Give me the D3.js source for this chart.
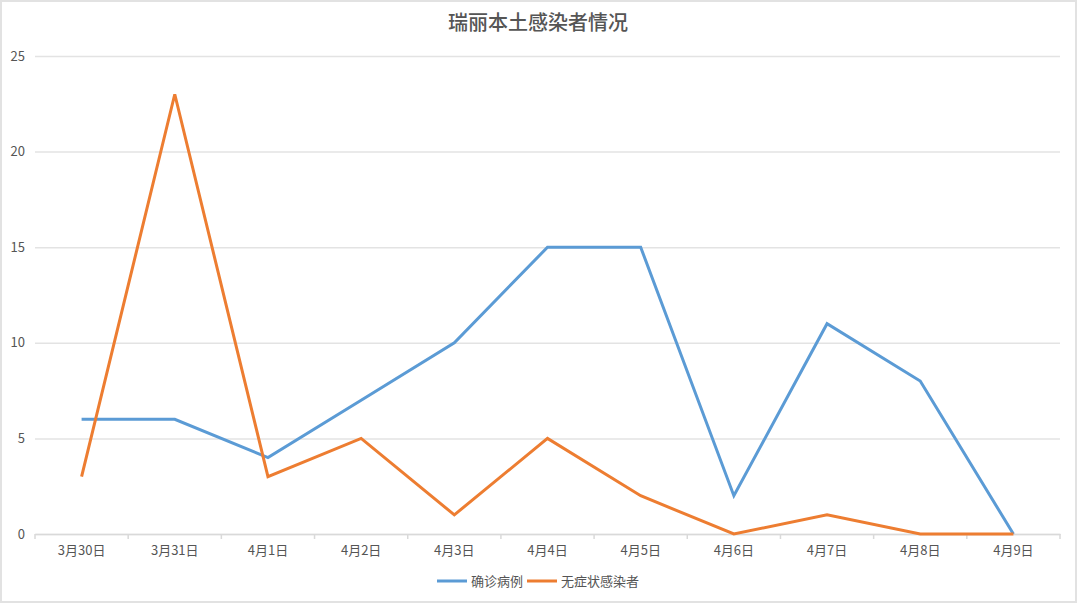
<!DOCTYPE html>
<html>
<head>
<meta charset="utf-8">
<script src="https://cdn.jsdelivr.net/npm/d3@7"></script>
<style>
  body { margin: 0; background: #fff; }
  text { font-family: "Noto Sans CJK SC", "Noto Sans", sans-serif; fill: #555; }
</style>
</head>
<body>
<div id="chart"></div>
<script>
const days = ["3月30日", "3月31日", "4月1日", "4月2日", "4月3日", "4月4日", "4月5日", "4月6日", "4月7日", "4月8日", "4月9日"];
const confirmed = [6, 6, 4, 7, 10, 15, 15, 2, 11, 8, 0];     // 确诊病例
const asymptomatic = [3, 23, 3, 5, 1, 5, 2, 0, 1, 0, 0];    // 无症状感染者
const yTicks = [0, 5, 10, 15, 20, 25];
const seriesNames = ["确诊病例", "无症状感染者"];
const colors = ["#5b9bd5", "#ed7d31"];

const width = 1080, height = 604,
    margin = ({ top: 56, right: 20, bottom: 70, left: 35 });

const svg = d3.select("#chart")
    .append("svg")
    .attr("width", width)
    .attr("height", height);

// outer frame
svg.append("rect")
    .attr("x", 1).attr("y", 1)
    .attr("width", 1075).attr("height", 601)
    .attr("fill", "none")
    .attr("stroke", "#e2e2e2")
    .attr("stroke-width", 2);

let x = d3.scaleBand()
    .domain(days)
    .range([margin.left, width - margin.right]);

let y = d3.scaleLinear()
    .domain([0, 25])
    .range([height - margin.bottom, margin.top]);

// gridlines + y labels
svg.append("g")
    .attr("transform", `translate(${margin.left},0)`)
    .call(d3.axisLeft(y).tickValues(yTicks).tickSize(-(width - margin.left - margin.right)).tickPadding(10))
    .call(g => g.select(".domain").remove())
    .call(g => g.selectAll(".tick line").attr("stroke", "#e3e3e3").attr("stroke-width", 1.5))
    .call(g => g.selectAll(".tick text").attr("font-size", 13).attr("fill", "#555"));

// x axis
svg.append("g")
    .attr("transform", `translate(0,${height - margin.bottom})`)
    .call(d3.axisBottom(x).tickSize(0).tickPadding(12))
    .call(g => g.select(".domain").attr("stroke", "#d9d9d9").attr("stroke-width", 1.5))
    .call(g => g.selectAll(".tick text").attr("font-size", 13).attr("fill", "#555"));

// tick marks between bands
svg.append("g")
    .selectAll("line")
    .data(days.concat(["end"]))
    .join("line")
    .attr("x1", (d, i) => i < days.length ? x(d) : x(days[days.length - 1]) + x.bandwidth())
    .attr("x2", (d, i) => i < days.length ? x(d) : x(days[days.length - 1]) + x.bandwidth())
    .attr("y1", height - margin.bottom)
    .attr("y2", height - margin.bottom + 5)
    .attr("stroke", "#d9d9d9")
    .attr("stroke-width", 1.5);

let line = d3.line()
    .x((d, i) => x(days[i]) + x.bandwidth() / 2)
    .y(d => y(d));

[confirmed, asymptomatic].forEach((s, k) => {
    svg.append("path")
        .datum(s)
        .attr("d", line)
        .attr("fill", "none")
        .attr("stroke", colors[k])
        .attr("stroke-width", 3)
        .attr("stroke-linejoin", "miter");
});

// title
svg.append("text")
    .attr("x", 538)
    .attr("y", 30)
    .attr("text-anchor", "middle")
    .attr("font-size", 20)
    .attr("font-weight", 500)
    .text("瑞丽本土感染者情况");

// legend
const legendX = [437, 527];
seriesNames.forEach((name, k) => {
    svg.append("line")
        .attr("x1", legendX[k]).attr("x2", legendX[k] + 30)
        .attr("y1", 581).attr("y2", 581)
        .attr("stroke", colors[k])
        .attr("stroke-width", 3);
    svg.append("text")
        .attr("x", legendX[k] + 34)
        .attr("y", 586)
        .attr("font-size", 13)
        .text(name);
});
</script>
</body>
</html>
